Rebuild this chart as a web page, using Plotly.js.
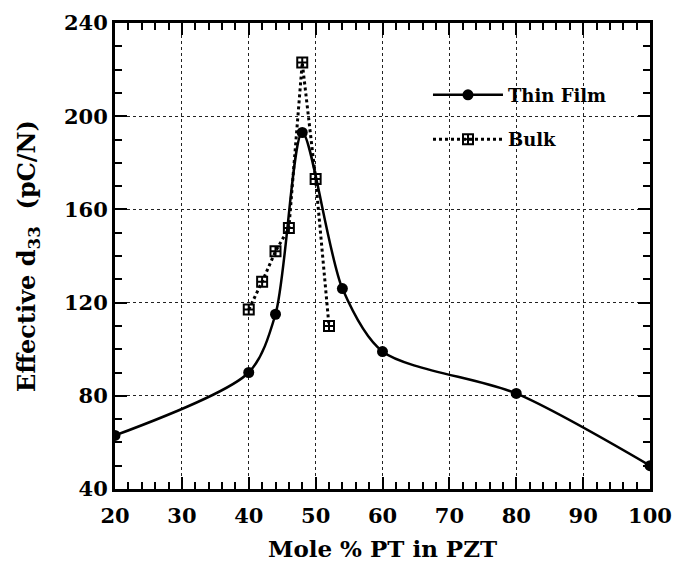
<!DOCTYPE html>
<html>
<head>
<meta charset="utf-8">
<script src="https://cdn.plot.ly/plotly-3.0.1.min.js"></script>
<style>html,body{margin:0;padding:0;background:#fff}#chart{width:675px;height:562px}</style>
</head>
<body>
<div id="chart"></div>
<script>
// Thin film data
var thinX = [20, 40, 44, 48, 54, 60, 80, 100];
var thinY = [63, 90, 115, 193, 126, 99, 81, 50];
// Bulk data
var bulkX = [40, 42, 44, 46, 48, 50, 52];
var bulkY = [117, 129, 142, 152, 223, 173, 110];

var xTicks = [20, 30, 40, 50, 60, 70, 80, 90, 100];
var yTicks = [40, 80, 120, 160, 200, 240];

var fontFam = '"DejaVu Serif", "Liberation Serif", serif';

var traces = [
  {
    x: thinX, y: thinY, name: 'Thin Film', type: 'scatter', mode: 'lines+markers',
    line: {color: '#000', width: 2.5, shape: 'spline', smoothing: 0.8},
    marker: {symbol: 'circle', size: 11, color: '#000'},
    legendgroup: 'a'
  },
  {
    x: bulkX, y: bulkY, name: 'Bulk', type: 'scatter', mode: 'lines+markers',
    line: {color: '#000', width: 3, dash: 'dot'},
    marker: {symbol: 'square-cross-open', size: 10, color: '#000', line: {width: 2, color: '#000'}},
    legendgroup: 'b'
  }
];

var axisCommon = {
  showline: true, linecolor: '#000', linewidth: 3, mirror: 'allticks',
  ticks: 'inside', ticklen: 12, tickwidth: 2, tickcolor: '#000',
  showgrid: true, gridcolor: '#222', gridwidth: 1, griddash: 'dot',
  zeroline: false,
  tickfont: {family: fontFam, size: 21, color: '#000', weight: 'bold'}
};

var layout = {
  width: 675, height: 562,
  margin: {l: 115, r: 25, t: 23, b: 73},
  paper_bgcolor: '#fff', plot_bgcolor: '#fff',
  showlegend: true,
  legend: {
    x: 0.585, y: 0.885, xanchor: 'left', yanchor: 'top',
    bgcolor: 'rgba(0,0,0,0)', borderwidth: 0,
    traceorder: 'grouped', tracegroupgap: 18, itemwidth: 70,
    font: {family: fontFam, size: 18, color: '#000', weight: 'bold'}
  },
  xaxis: Object.assign({}, axisCommon, {
    range: [20, 100], tickvals: xTicks, ticktext: xTicks.map(String),
    ticklabelstandoff: 6,
    minor: {dtick: 2, ticks: 'inside', ticklen: 7, tickwidth: 2, tickcolor: '#000', showgrid: false},
    title: {text: 'Mole % PT in PZT', standoff: 14,
            font: {family: fontFam, size: 23, color: '#000', weight: 'bold'}}
  }),
  yaxis: Object.assign({}, axisCommon, {
    range: [40, 240], tickvals: yTicks, ticktext: yTicks.map(String),
    minor: {dtick: 10, ticks: 'inside', ticklen: 7, tickwidth: 2, tickcolor: '#000', showgrid: false},
    title: {text: 'Effective d<sub>33</sub>&nbsp; (pC/N)', standoff: 22,
            font: {family: fontFam, size: 24, color: '#000', weight: 'bold'}}
  })
};

Plotly.newPlot('chart', traces, layout, {displayModeBar: false, staticPlot: true});
</script>
</body>
</html>
